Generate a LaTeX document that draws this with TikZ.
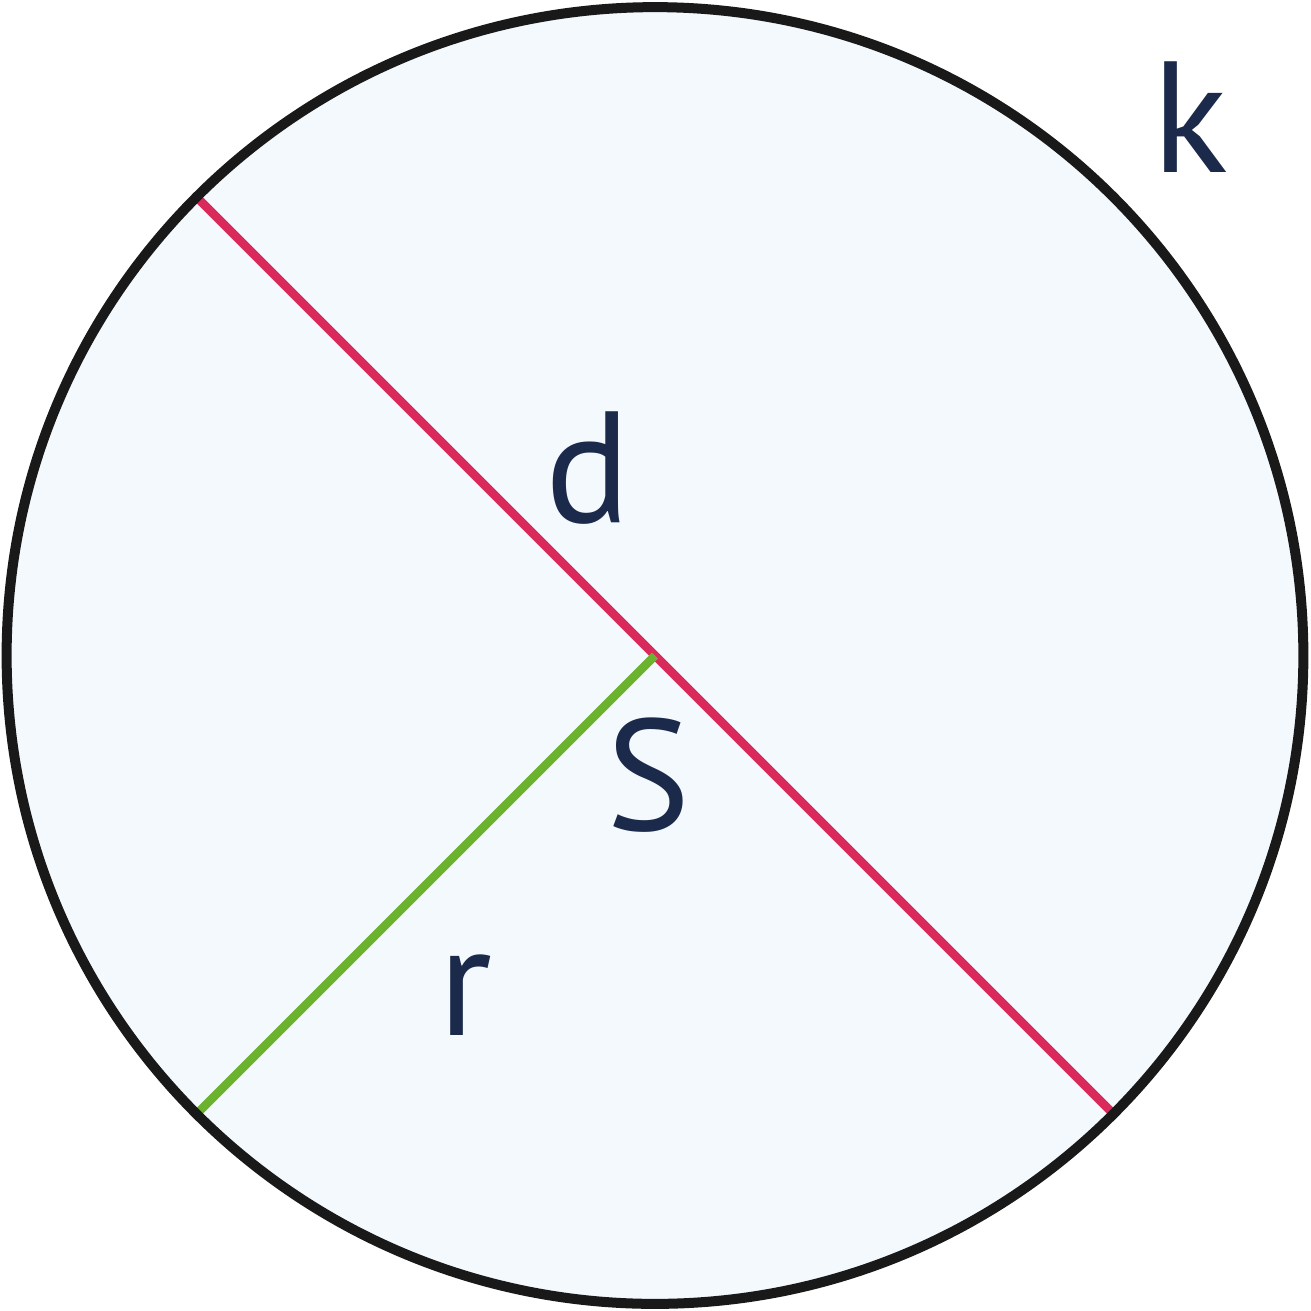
\documentclass[tikz,border=0pt]{standalone}
\usepackage{fontspec}
\setmainfont{PT Sans}
\definecolor{fillblue}{HTML}{F4F9FE}
\definecolor{diared}{HTML}{D82B5B}
\definecolor{radgreen}{HTML}{6BB22E}
\definecolor{navy}{HTML}{1B2A4A}
\begin{document}
\begin{tikzpicture}[x=0.01cm,y=-0.01cm,
  lbl/.style={text=navy,font=\fontsize{45}{50}\selectfont,anchor=base,inner sep=0pt}]
\useasboundingbox (0,0) rectangle (1311,1311);
\coordinate (C) at (655,655.5);
\coordinate (A) at (197,197.5);
\coordinate (B) at (1113,1113.5);
\coordinate (R) at (197,1113.5);
\fill[fillblue] (C) circle[radius=6.48cm];
\draw[diared,line width=0.085cm] (A) -- (B);
\draw[radgreen,line width=0.085cm] (C) -- (R);
\draw[black!90,line width=0.1cm] (C) circle[radius=6.48cm];
\node[lbl] (d) at (588,522) {d};
\node[lbl] (k) at (1190,172) {k};
\node[lbl] (S) at (649,830) {S};
\node[lbl] (r) at (465,1035) {r};
\end{tikzpicture}
\end{document}
